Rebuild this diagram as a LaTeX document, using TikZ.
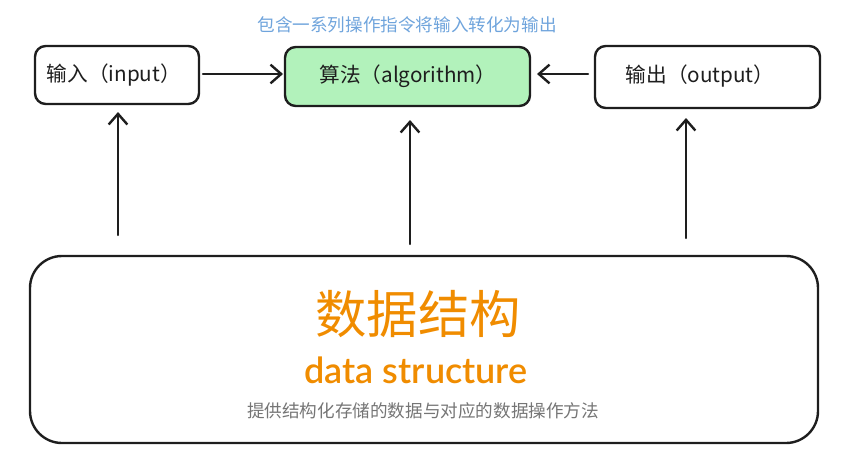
\documentclass[tikz,border=0pt]{standalone}
\usepackage{fontspec}
\setmainfont{Lato}
\newfontfamily\cjk{Noto Sans CJK SC}
\newfontfamily\latosb{Lato Semibold}
\usetikzlibrary{arrows.meta}
\definecolor{boxgreen}{HTML}{B2F2BB}
\definecolor{ink}{HTML}{1E1E1E}
\definecolor{labelblue}{HTML}{6FA4DC}
\definecolor{dsorange}{HTML}{F08C00}
\definecolor{descgray}{HTML}{757575}
\tikzset{
  stepbox/.style={draw=ink, line width=1.8pt, rounded corners=8pt},
  boxtext/.style={font=\cjk\fontsize{15.5}{18}\selectfont, text=ink},
  flow/.style={draw=ink, line width=1.8pt, line cap=round, -{Straight Barb[length=8pt,width=14pt,line width=1.8pt]}},
}
\begin{document}
\begin{tikzpicture}[x=0.75pt,y=-0.75pt]
\useasboundingbox (0,0) rectangle (849,453);
% boxes
\draw[stepbox, fill=white] (35,46) rectangle (199,104);
\node[boxtext, anchor=west] (inp) at (42,75) {输入（input）};
\coordinate (inpR) at (203,74);
\draw[stepbox, fill=boxgreen] (285,47) rectangle (530,106);
\node[boxtext] (alg) at (408,76) {算法（algorithm）};
\coordinate (algL) at (283,74);
\coordinate (algR) at (537,74);
\draw[stepbox, fill=white] (595,46) rectangle (820,108);
\node[boxtext] (out) at (700,76) {输出（output）};
\coordinate (outL) at (588,74);
% top label
\node[font=\cjk\fontsize{13.2}{15}\selectfont, text=labelblue] (lbl) at (407,25) {包含一系列操作指令将输入转化为输出};
% big box
\draw[stepbox, rounded corners=24pt] (30,256) rectangle (818,443);
\node[font=\cjk\fontsize{38.5}{44}\selectfont, text=dsorange] (ds) at (418,314) {数据结构};
\node[font=\latosb\fontsize{27}{30}\selectfont, text=dsorange] (dse) at (416,370) {data structure};
\node[font=\cjk\fontsize{13.2}{15}\selectfont, text=descgray] (desc) at (423,411) {提供结构化存储的数据与对应的数据操作方法};
% connectors
\coordinate (v1s) at (118,235);
\coordinate (v1e) at (118,112);
\coordinate (v2s) at (410,244);
\coordinate (v2e) at (410,120);
\coordinate (v3s) at (686,238);
\coordinate (v3e) at (686,118);
\draw[flow] (inpR) -- (algL);
\draw[flow] (outL) -- (algR);
\draw[flow] (v1s) -- (v1e);
\draw[flow] (v2s) -- (v2e);
\draw[flow] (v3s) -- (v3e);
\end{tikzpicture}
\end{document}
